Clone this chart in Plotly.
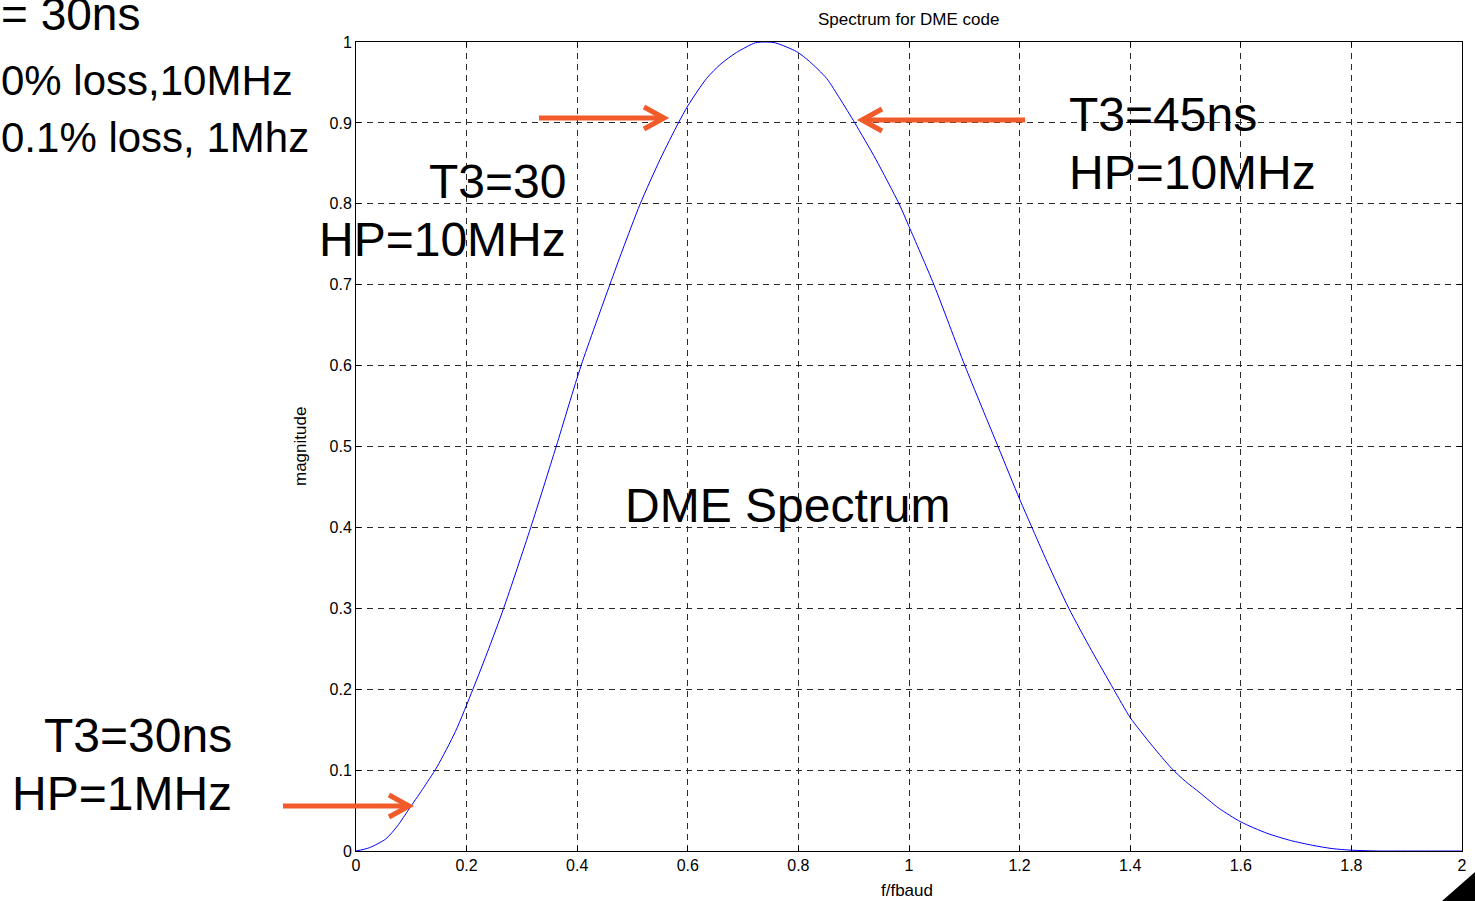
import plotly.graph_objects as go

# ---- data ----
freq = [0.0, 0.024, 0.054, 0.075, 0.096, 0.12, 0.1465, 0.18, 0.2115, 0.24, 0.267, 0.316,
        0.362, 0.407, 0.459, 0.482, 0.514, 0.55, 0.583, 0.6, 0.634, 0.66, 0.688, 0.722,
        0.74, 0.758, 0.797, 0.82, 0.851, 0.875, 0.902, 0.94, 0.982, 1.0, 1.045, 1.101,
        1.161, 1.2, 1.221, 1.25, 1.289, 1.33, 1.37, 1.4, 1.44, 1.475, 1.5, 1.526, 1.56,
        1.6, 1.647, 1.69, 1.73, 1.765, 1.8, 1.85, 1.9, 1.95, 2.0]
magnitude = [0.0, 0.004, 0.015, 0.031, 0.052, 0.076, 0.104, 0.148, 0.2, 0.25, 0.3, 0.4,
             0.5, 0.6, 0.7, 0.743, 0.8, 0.855, 0.9, 0.921, 0.955, 0.973, 0.987, 0.999,
             1.0, 0.999, 0.988, 0.976, 0.955, 0.93, 0.9, 0.855, 0.8, 0.772, 0.7, 0.6,
             0.5, 0.435, 0.402, 0.357, 0.3, 0.248, 0.2, 0.165, 0.13, 0.102, 0.086, 0.072, 0.053,
             0.036, 0.022, 0.013, 0.007, 0.003, 0.001, 0.0, 0.0, 0.0, 0.0]

x_tick_vals = [0, 0.2, 0.4, 0.6, 0.8, 1.0, 1.2, 1.4, 1.6, 1.8, 2.0]
x_tick_text = ["0", "0.2", "0.4", "0.6", "0.8", "1", "1.2", "1.4", "1.6", "1.8", "2"]
y_tick_vals = [0, 0.1, 0.2, 0.3, 0.4, 0.5, 0.6, 0.7, 0.8, 0.9, 1.0]
y_tick_text = ["0", "0.1", "0.2", "0.3", "0.4", "0.5", "0.6", "0.7", "0.8", "0.9", "1"]

title_text = "Spectrum for DME code"
x_label = "f/fbaud"
y_label = "magnitude"

# ---- layout geometry ----
W, H = 1475, 901
L, R, T, B = 356, 1462, 42, 851
FONT = "Liberation Sans, Arial, sans-serif"
ORANGE = "#F15A29"


def px(x):
    return (x - L) / (R - L)


def py(y):
    return (B - y) / (B - T)


fig = go.Figure()
fig.add_trace(go.Scatter(x=freq, y=magnitude, mode="lines",
                         line=dict(color="#0000FF", width=1, shape="spline", smoothing=0.7),
                         hoverinfo="skip", showlegend=False))

axis_common = dict(showline=True, linecolor="black", linewidth=1, mirror="ticks",
                   ticks="inside", ticklen=5, tickcolor="black", automargin=False,
                   showgrid=True, gridcolor="#2a2a2a", gridwidth=1, griddash="6px,5px",
                   zeroline=False, tickfont=dict(family=FONT, size=16, color="black"))

fig.update_xaxes(range=[0, 2], tickvals=x_tick_vals, ticktext=x_tick_text, **axis_common)
fig.update_yaxes(range=[0, 1], tickvals=y_tick_vals, ticktext=y_tick_text, **axis_common)

annotations = []


def text(t, x, y, size, xanchor="left", angle=0):
    annotations.append(dict(text=t, x=px(x), y=py(y), xref="paper", yref="paper",
                            xanchor=xanchor, yanchor="middle", showarrow=False,
                            textangle=angle, borderpad=0,
                            font=dict(family=FONT, size=size, color="black")))


text(title_text, 908, 19, 17, "center")
text(x_label, 907, 891, 17, "center")
text(y_label, 300, 447, 17, "center", -90)

text("= 30ns", 0, 14, 46)
text("0% loss,10MHz", 0, 80, 42)
text("0.1% loss, 1Mhz", 0, 137, 42)
text("T3=30", 567, 182, 48, "right")
text("HP=10MHz", 567, 239, 48, "right")
text("T3=45ns", 1068, 115, 48)
text("HP=10MHz", 1068, 172, 48)
text("DME Spectrum", 624, 505, 48)
text("T3=30ns", 233, 735, 48, "right")
text("HP=1MHz", 233, 793, 48, "right")

shapes = []


def arrow(x0, x1, y, direction):
    # shaft
    shapes.append(dict(type="line", xref="paper", yref="paper",
                       x0=px(x0), x1=px(x1), y0=py(y), y1=py(y),
                       line=dict(color=ORANGE, width=5)))
    d = 20 * direction
    path = "M {},{} L {},{} L {},{}".format(px(x1 - d), py(y - 11), px(x1), py(y),
                                            px(x1 - d), py(y + 11))
    shapes.append(dict(type="path", xref="paper", yref="paper", path=path,
                       line=dict(color=ORANGE, width=5)))


arrow(539, 664, 118, 1)
arrow(1025, 862, 120, -1)
arrow(283, 409, 806, 1)

# small black corner triangle of the slide
shapes.append(dict(type="path", xref="paper", yref="paper",
                   path="M {},{} L {},{} L {},{} Z".format(px(1442), py(901), px(1475), py(872),
                                                           px(1475), py(901)),
                   fillcolor="black", line=dict(color="black", width=0)))

fig.update_layout(width=W, height=H, autosize=False,
                  margin=dict(l=L, r=W - R, t=T, b=H - B, autoexpand=False),
                  paper_bgcolor="white", plot_bgcolor="white",
                  annotations=annotations, shapes=shapes, showlegend=False)

fig.write_html("out.html",
               config={"displayModeBar": False, "responsive": False},
               post_script="document.body.style.margin='0';document.body.style.overflow='hidden';")
